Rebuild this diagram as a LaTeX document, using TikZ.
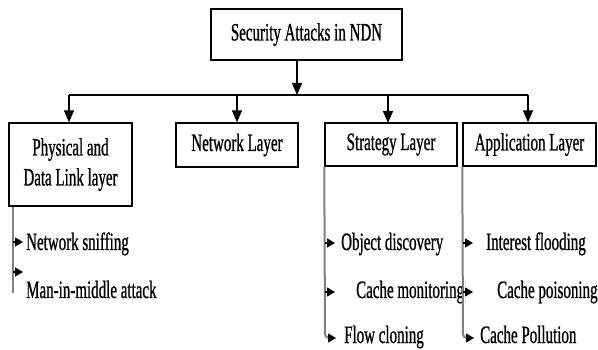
\documentclass[tikz,border=0pt]{standalone}
\usepackage{fontspec}
\setmainfont{Liberation Serif}[FakeStretch=0.6,FakeBold=0.8]
\usetikzlibrary{arrows.meta}
\begin{document}
\begin{tikzpicture}[x=1pt,y=-1pt,
 txt/.style={font=\fontsize{25}{30}\selectfont},
 box/.style={draw,line width=1.4pt,inner sep=0pt,txt,align=center},
 lbl/.style={inner sep=0pt,anchor=base west,txt},
 main/.style={line width=1.4pt,-{Triangle[length=12pt,width=10pt]}},
 rail/.style={draw=gray,line width=2pt},
 sub/.style={line width=1.3pt,-{Triangle[length=8pt,width=9pt]}}]
\useasboundingbox (0,0) rectangle (598,350);
% boxes
\node[box,minimum width=191pt,minimum height=51pt] (top) at (306.5,34.5) {Security Attacks in NDN};
\node[box,minimum width=123pt,minimum height=83pt] (phys) at (70.5,164.5) {Physical and\\Data Link layer};
\node[box,minimum width=122pt,minimum height=44pt] (net) at (237,145) {Network Layer};
\node[box,minimum width=132pt,minimum height=43pt] (strat) at (391,144.5) {Strategy Layer};
\node[box,minimum width=133pt,minimum height=43pt] (app) at (529.5,144.5) {Application Layer};
% tree connectors
\coordinate (bar) at (297,95);
\coordinate (barL) at (69,95);
\coordinate (barR) at (528,95);
\draw[main] (top.south -| bar) -- (bar);
\draw[line width=1.4pt] (barL) -- (barR);
\draw[main] (barL) -- (barL |- phys.north);
\draw[main] (net.north |- bar) -- (net.north);
\draw[main] (388,95) -- (388,123);
\draw[main] (barR) -- (barR |- app.north);
% labels
\node[lbl] (ns) at (26,250) {Network sniffing};
\node[lbl] (mim) at (26,298) {Man-in-middle attack};
\node[lbl] (od) at (341,250) {Object discovery};
\node[lbl] (cm) at (356,298) {Cache monitoring};
\node[lbl] (fc) at (344,343) {Flow cloning};
\node[lbl] (if) at (486,250) {Interest flooding};
\node[lbl] (cp) at (497,298) {Cache poisoning};
\node[lbl] (cpo) at (480,343) {Cache Pollution};
% rails
\coordinate (r1) at (13,293);
\draw[rail] (phys.south -| r1) -- (r1);
\coordinate (r2) at (325,338);
\coordinate (r3) at (463,338);
\draw[rail,rounded corners=4pt] (strat.south west) -- (r2) -- ++(5,0);
\draw[rail,rounded corners=4pt] (app.south west) -- (r3) -- ++(5,0);
% item arrows
\coordinate (a1) at (23,242);
\coordinate (a2) at (23,272);
\draw[sub] (a1 -| r1) -- (a1);
\draw[sub] (a2 -| r1) -- (a2);
\coordinate (b1) at (335,243);
\coordinate (b2) at (335,292);
\coordinate (b3) at (336,338);
\draw[sub] (b1 -| r2) -- (b1);
\draw[sub] (b2 -| r2) -- (b2);
\draw[sub] ([xshift=4pt]r2) -- (b3);
\coordinate (c1) at (473,243);
\coordinate (c2) at (473,292);
\coordinate (c3) at (474,338);
\draw[sub] (c1 -| r3) -- (c1);
\draw[sub] (c2 -| r3) -- (c2);
\draw[sub] ([xshift=4pt]r3) -- (c3);
\end{tikzpicture}
\end{document}
